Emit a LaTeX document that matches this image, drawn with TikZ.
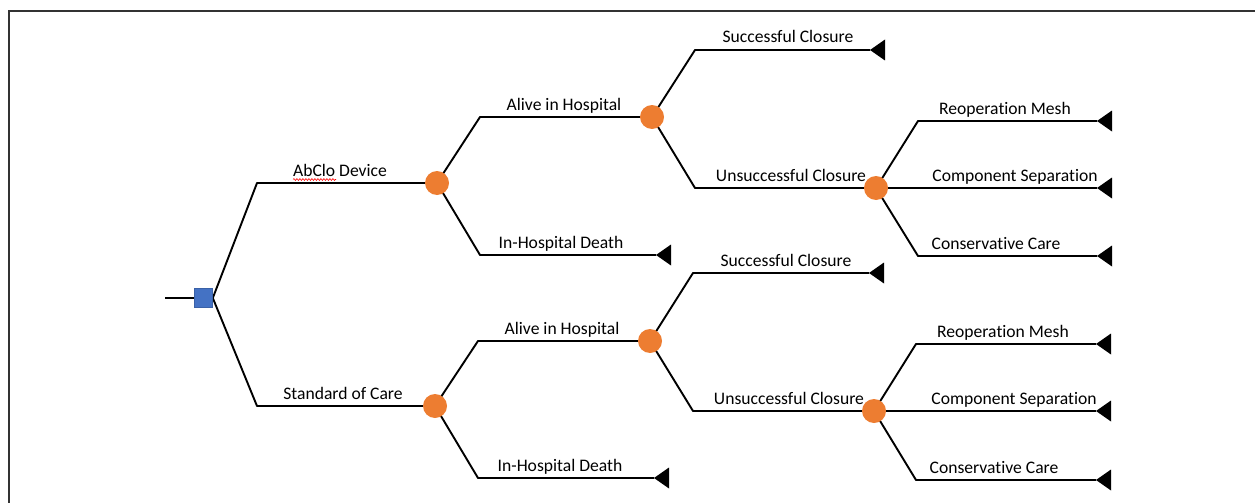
\documentclass[tikz,border=0pt]{standalone}
\usepackage{fontspec}
\setmainfont{Carlito}[Ligatures=NoCommon]
\usetikzlibrary{backgrounds,decorations.pathmorphing}
\definecolor{orangec}{HTML}{ED7D31}
\definecolor{bluec}{HTML}{4472C4}
\definecolor{framec}{HTML}{333333}
\begin{document}
\begin{tikzpicture}[x=1pt,y=-1pt,
  chance/.style={circle,fill=orangec,inner sep=0pt,minimum size=24pt},
  decision/.style={rectangle,fill=bluec,draw=bluec!85!black,line width=0.6pt,inner sep=0pt,minimum width=18pt,minimum height=19pt},
  lbl/.style={font=\fontsize{17.6}{20}\selectfont,anchor=base,inner sep=0pt},
  br/.style={line width=1.9pt,black,line join=round}]
\useasboundingbox (0,0) rectangle (1255,503);
% frame
\draw[framec,line width=2.5pt] (9,503) -- (9,11) -- (1255,11);
% nodes
\coordinate (s) at (165,298);
\node[decision] (d) at (203.5,298) {};
\node[chance] (c1) at (437,183) {};
\node[chance] (c2) at (435,406) {};
\node[chance] (c11) at (652,117) {};
\node[chance] (c112) at (876,188) {};
\node[chance] (c21) at (650,341) {};
\node[chance] (c212) at (874,411) {};
% bend points
\coordinate (b1) at (257,183);
\coordinate (b2) at (257,406);
\coordinate (b11) at (480,117);
\coordinate (b12) at (480,255);
\coordinate (b111) at (695,50);
\coordinate (b112) at (695,188);
\coordinate (b1121) at (918,121);
\coordinate (b1123) at (918,256);
\coordinate (b21) at (478,341);
\coordinate (b22) at (478,478);
\coordinate (b211) at (693,273);
\coordinate (b212) at (693,411);
\coordinate (b2121) at (916,344);
\coordinate (b2123) at (916,480);
% terminal tips
\coordinate (t12) at (656,255);
\coordinate (t111) at (870,50);
\coordinate (t1121) at (1097,121);
\coordinate (t1122) at (1097,188);
\coordinate (t1123) at (1097,256);
\coordinate (t22) at (654,478);
\coordinate (t211) at (869,273);
\coordinate (t2121) at (1096,344);
\coordinate (t2122) at (1096,411);
\coordinate (t2123) at (1096,480);
\foreach \t in {t12,t111,t1121,t1122,t1123,t22,t211,t2121,t2122,t2123}
  \fill[black] (\t) -- ++(15,-10.5) -- ++(0,21) -- cycle;
% connectors
\begin{scope}[on background layer]
\draw[br] (s) -- (d.west);
\draw[br] (d.east) -- (b1) -- (c1.center);
\draw[br] (d.east) -- (b2) -- (c2.center);
\draw[br] (c1.center) -- (b11) -- (c11.center);
\draw[br] (c1.center) -- (b12) -- (t12);
\draw[br] (c11.center) -- (b111) -- (t111);
\draw[br] (c11.center) -- (b112) -- (c112.center);
\draw[br] (c112.center) -- (b1121) -- (t1121);
\draw[br] (c112.center) -- (t1122);
\draw[br] (c112.center) -- (b1123) -- (t1123);
\draw[br] (c2.center) -- (b21) -- (c21.center);
\draw[br] (c2.center) -- (b22) -- (t22);
\draw[br] (c21.center) -- (b211) -- (t211);
\draw[br] (c21.center) -- (b212) -- (c212.center);
\draw[br] (c212.center) -- (b2121) -- (t2121);
\draw[br] (c212.center) -- (t2122);
\draw[br] (c212.center) -- (b2123) -- (t2123);
\end{scope}
% labels
\node[lbl] (l1) at (340,176) {AbClo Device};
\draw[red,line width=0.6pt,decorate,decoration={snake,segment length=3pt,amplitude=0.9pt}] (293,179.5) -- (336,179.5);
\node[lbl] (l2) at (343,399) {Standard of Care};
\node[lbl] (l11) at (564,110) {Alive in Hospital};
\node[lbl] (l12) at (561,248) {In-Hospital Death};
\node[lbl] (l111) at (788,43) {Successful Closure};
\node[lbl] (l112) at (791,181) {Unsuccessful Closure};
\node[lbl] (l1121) at (1005,114) {Reoperation Mesh};
\node[lbl] (l1122) at (1015,181) {Component Separation};
\node[lbl] (l1123) at (996,249) {Conservative Care};
\node[lbl] (l21) at (562,334) {Alive in Hospital};
\node[lbl] (l22) at (560,471) {In-Hospital Death};
\node[lbl] (l211) at (786,266) {Successful Closure};
\node[lbl] (l212) at (789,404) {Unsuccessful Closure};
\node[lbl] (l2121) at (1003,337) {Reoperation Mesh};
\node[lbl] (l2122) at (1014,404) {Component Separation};
\node[lbl] (l2123) at (994,473) {Conservative Care};
\end{tikzpicture}
\end{document}
